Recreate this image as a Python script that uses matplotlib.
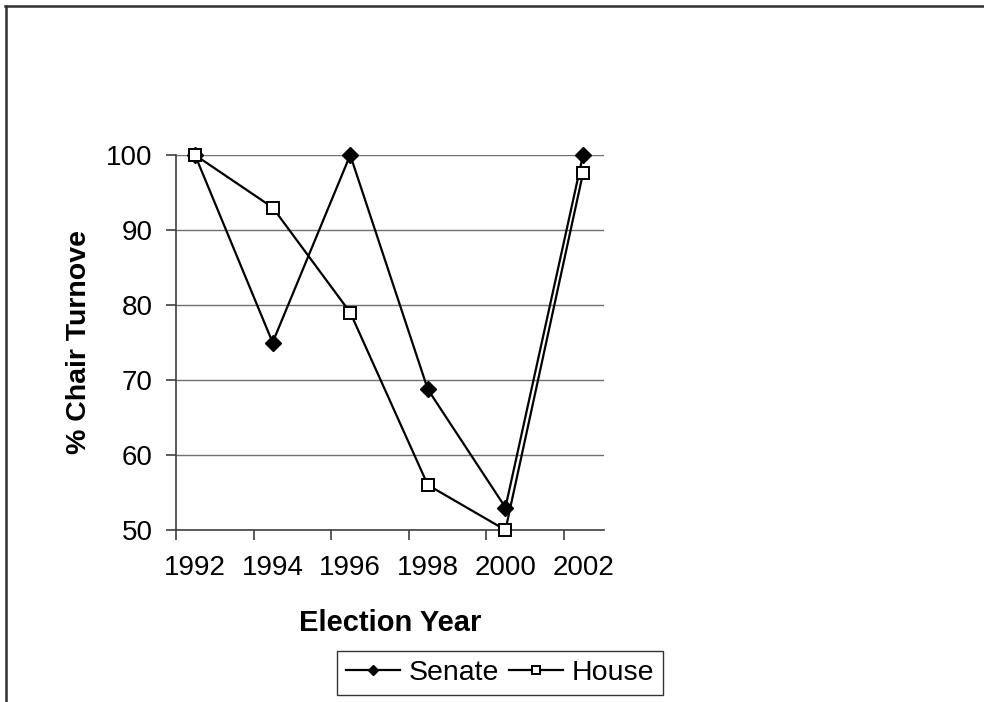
import matplotlib
matplotlib.use("Agg")
import matplotlib.pyplot as plt
from matplotlib.lines import Line2D

plt.rcParams['font.family'] = ['Liberation Sans', 'DejaVu Sans']

years = ["1992", "1994", "1996", "1998", "2000", "2002"]
senate = [100, 75, 100, 68.75, 53, 100]
house = [100, 93, 79, 56, 50, 97.6]
y_ticks = [50, 60, 70, 80, 90, 100]

fig = plt.figure(figsize=(9.84, 7.02), dpi=100)
ax = fig.add_axes([176 / 984, 1 - 530 / 702, (604 - 176) / 984, (530 - 155) / 702])

x = list(range(len(years)))
ax.plot(x, senate, color='black', lw=1.6, marker='D', markersize=8,
        markerfacecolor='black', markeredgecolor='black', label='Senate', zorder=3,
        clip_on=False)
ax.plot(x, house, color='black', lw=1.6, marker='s', markersize=9,
        markerfacecolor='white', markeredgecolor='black', markeredgewidth=1.4,
        label='House', zorder=4, clip_on=False)

ax.set_ylim(50, 100)
ax.set_xlim(-0.245, 5.27)
ax.set_yticks(y_ticks)
ax.set_yticklabels([str(v) for v in y_ticks], fontsize=20)
ax.yaxis.grid(True, color='#707070', lw=1.0)
ax.set_axisbelow(True)

# category boundaries carry the tick marks, labels sit on the data points
ax.set_xticks([i - 0.245 for i in x])
ax.set_xticklabels([])
ax.set_xticks(x, minor=True)
ax.set_xticklabels(years, minor=True, fontsize=20)
ax.tick_params(axis='x', which='minor', length=0, pad=18)
ax.tick_params(axis='x', which='major', length=7, width=1.2, color='#404040', direction='out')
ax.tick_params(axis='y', length=7, width=1.2, color='#404040', direction='out', pad=10)

for side in ['top', 'right']:
    ax.spines[side].set_visible(False)
for side in ['left', 'bottom']:
    ax.spines[side].set_color('#404040')
    ax.spines[side].set_linewidth(1.2)

ax.set_ylabel('% Chair Turnove', fontsize=20.5, fontweight='bold', labelpad=10)
ax.set_xlabel('Election Year', fontsize=21, fontweight='bold', labelpad=20)

leg = fig.legend(loc='center', bbox_to_anchor=(500 / 984, 1 - 673 / 702), ncol=2,
                 fontsize=20.5, frameon=True, fancybox=False, edgecolor='black',
                 markerscale=0.65, handlelength=1.9, handletextpad=0.3,
                 columnspacing=0.35, borderpad=0.3)
leg.get_frame().set_linewidth(1.0)

# outer chart border (top and left edges)
fig.add_artist(Line2D([5 / 984, 1.0], [1 - 5.5 / 702, 1 - 5.5 / 702],
                      transform=fig.transFigure, color='#303030', lw=1.8))
fig.add_artist(Line2D([5.5 / 984, 5.5 / 984], [0.0, 1 - 5.5 / 702],
                      transform=fig.transFigure, color='#303030', lw=1.8))

fig.savefig('out.png', dpi=100)
